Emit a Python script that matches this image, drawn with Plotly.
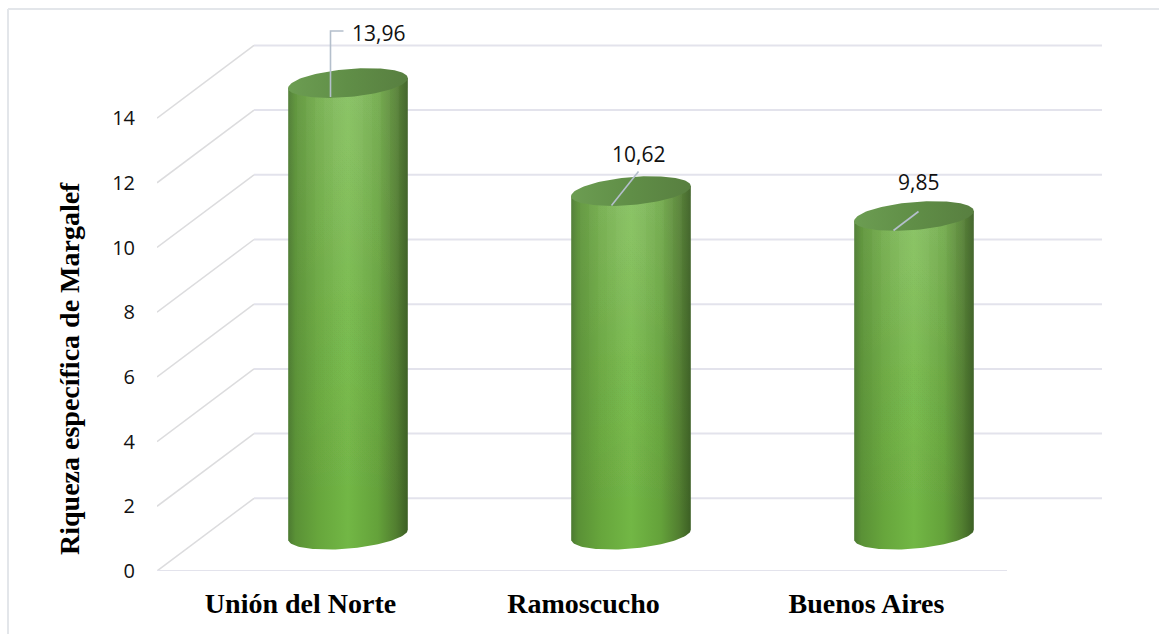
import numpy as np
import plotly.graph_objects as go

categories = ["Unión del Norte", "Ramoscucho", "Buenos Aires"]
values = [13.96, 10.62, 9.85]
value_labels = ["13,96", "10,62", "9,85"]
y_ticks = [0, 2, 4, 6, 8, 10, 12, 14]
y_title = "Riqueza específica de Margalef"

W, H = 1159, 634
PL, PR, PT, PB = 157, 1102, 10, 571          # plot box in pixels
PX_X, PX_Y = 283.0, 32.35                    # pixels per category, per unit
X0_PX = 300.5                                # pixel of category 0
xr = [(PL - X0_PX) / PX_X, (PR - X0_PX) / PX_X]
yr = [0, (PB - PT) / PX_Y]

# oblique depth of the 3-D box, in data units
DX, DY = 97.0 / PX_X, 72.7 / PX_Y
A = 59.8 / PX_X            # cylinder half width
B = 14.0 / PX_Y            # ellipse half height
K = 5.0 / PX_Y             # ellipse tilt (right side higher)
CYL_DX = 47.5 / PX_X

GRID = "#e3e3ec"
DIAG = "#dcdcde"
FONT_SERIF = "Liberation Serif"
FONT_SANS = "Open Sans"

body_h = [[0, "#4c7a31"], [0.06, "#5a9136"], [0.25, "#67a63c"], [0.5, "#72b745"],
          [0.75, "#64a23a"], [0.9, "#527f30"], [1, "#3c5f24"]]
cap_h = [[0, "#6c9d52"], [0.5, "#608e47"], [1, "#587f40"]]
shine_widths = [1.0, 0.85, 0.7, 0.55, 0.4, 0.25]
shine_alpha = [0.05, 0.035, 0.035, 0.035, 0.03, 0.03]

fig = go.Figure()


def line(xs, ys, color, width):
    fig.add_trace(go.Scatter(x=xs, y=ys, mode="lines", cliponaxis=False,
                             line=dict(color=color, width=width),
                             hoverinfo="skip", showlegend=False))


# depth diagonals and back wall gridlines
for v in y_ticks:
    line([xr[0], xr[0] + DX], [v, v + DY], DIAG, 1.5)
    line([xr[0] + DX, xr[1]], [v + DY, v + DY], GRID, 2)
# front floor edge
line([xr[0], (1007 - X0_PX) / PX_X], [0, 0], GRID, 2.2)

t = np.linspace(0, 2 * np.pi, 121)
for i, (name, val) in enumerate(zip(categories, values)):
    cx = i + CYL_DX
    base = DY / 2
    top = val + DY / 2
    # body outline: top rim straight across the centre, lower arc of base ellipse
    ta = np.linspace(0, np.pi, 61)
    xb = cx + A * np.cos(ta)
    yb = base - B * np.sin(ta) + K * np.cos(ta)
    bx = np.r_[xb, cx - A, cx + A, xb[0]]
    by = np.r_[yb, top - K, top + K, yb[0]]
    fig.add_trace(go.Scatter(
        x=bx, y=by, mode="lines", fill="toself", name=name, line=dict(width=0),
        cliponaxis=False, hoverinfo="skip", showlegend=False,
        fillgradient=dict(type="horizontal", colorscale=body_h,
                          start=cx - A, stop=cx + A)))
    # nested translucent sheets that brighten the upper middle of the cylinder
    for w, al in zip(shine_widths, shine_alpha):
        x1, x2 = cx - w * A, cx + w * A
        s = K * w
        fig.add_trace(go.Scatter(
            x=[x1, x2, x2, x1, x1],
            y=[base - s, base + s, top + s, top - s, base - s],
            mode="lines", fill="toself", line=dict(width=0),
            cliponaxis=False, hoverinfo="skip", showlegend=False,
            fillgradient=dict(type="vertical",
                              colorscale=[[0, "rgba(255,255,255,0)"],
                                          [0.5, f"rgba(255,255,255,{al * 0.35:.4f})"],
                                          [1, f"rgba(255,255,255,{al:.4f})"]],
                              start=base, stop=top)))
    # top cap
    fig.add_trace(go.Scatter(
        x=cx + A * np.cos(t), y=top + B * np.sin(t) + K * np.cos(t),
        mode="lines", fill="toself", line=dict(width=0),
        cliponaxis=False, hoverinfo="skip", showlegend=False,
        fillgradient=dict(type="horizontal", colorscale=cap_h,
                          start=cx - A, stop=cx + A)))

# leader lines and value labels, as offsets from each cylinder top (px)
leaders = [
    ([-17.5, -17.5, -4.5], [-14, 52, 52], (30, 50.5)),
    ([-19.5, 7.5], [-14.5, 19.5], (7, 37)),
    ([-20.5, 4.5], [-14.5, 4.5], (4, 34.5)),
]
for i, val in enumerate(values):
    cx = i + CYL_DX
    top = val + DY / 2
    dxs, dys, (lx, ly) = leaders[i]
    line([cx + d / PX_X for d in dxs], [top + d / PX_Y for d in dys], "#b4bfcc", 1.6)
    fig.add_annotation(x=cx + lx / PX_X, y=top + ly / PX_Y, text=value_labels[i],
                       showarrow=False, xanchor="center", yanchor="middle",
                       font=dict(family=FONT_SANS, size=21, color="#111111"))

# rotated axis title
fig.add_annotation(xref="paper", yref="paper",
                   x=(69 - PL) / (PR - PL), y=(PB - 369) / (PB - PT),
                   xanchor="center", yanchor="middle",
                   text=f"<b>{y_title}</b>", textangle=-90, showarrow=False,
                   font=dict(family=FONT_SERIF, size=28, color="#000000"))

# chart frame (top and left edges only)
for sh in [dict(x0=8, x1=W, y0=9, y1=9), dict(x0=8, x1=8, y0=9, y1=H)]:
    fig.add_shape(type="line", xref="paper", yref="paper", layer="below",
                  x0=(sh["x0"] - PL) / (PR - PL), x1=(sh["x1"] - PL) / (PR - PL),
                  y0=(PB - sh["y0"]) / (PB - PT), y1=(PB - sh["y1"]) / (PB - PT),
                  line=dict(color="#e3e6ea", width=2))

fig.update_layout(
    width=W, height=H, autosize=False, showlegend=False,
    margin=dict(l=PL, r=W - PR, t=PT, b=H - PB, pad=0),
    paper_bgcolor="white", plot_bgcolor="rgba(0,0,0,0)",
    xaxis=dict(range=xr, tickmode="array", tickvals=[0, 1, 2],
               ticktext=[f"<b>{c}</b>" for c in categories],
               showgrid=False, zeroline=False, showline=False, ticks="outside",
               ticklen=7, tickcolor="rgba(0,0,0,0)", fixedrange=True,
               tickfont=dict(family=FONT_SERIF, size=28, color="#000000"),
               tickangle=0),
    yaxis=dict(range=yr, tickmode="array", tickvals=y_ticks,
               showgrid=False, zeroline=False, showline=False, ticks="outside",
               ticklen=17, tickcolor="rgba(0,0,0,0)", fixedrange=True,
               tickfont=dict(family=FONT_SANS, size=20, color="#111111")),
)

fig.write_html(
    "out.html", config={"displayModeBar": False, "responsive": False},
    post_script="document.body.style.margin='0';"
                "document.documentElement.style.overflow='hidden';",
)
